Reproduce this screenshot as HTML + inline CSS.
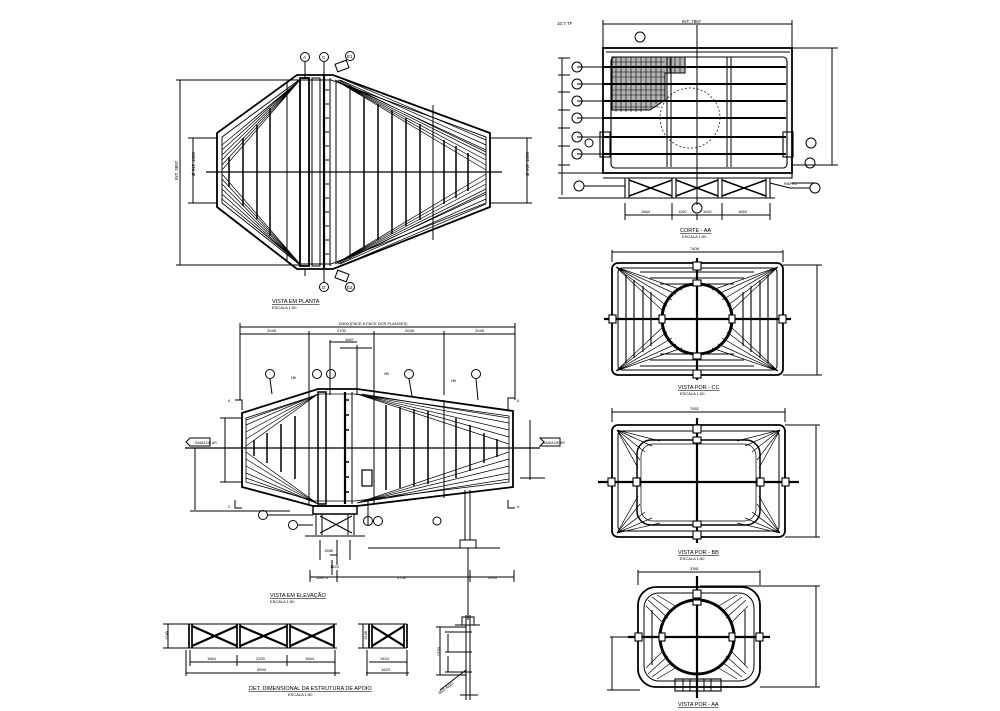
<!DOCTYPE html>
<html><head><meta charset="utf-8"><style>
html,body{margin:0;padding:0;background:#fff}
svg{display:block}
text{font-family:"Liberation Sans",sans-serif;fill:#000}
</style></head><body>
<svg width="1000" height="711" viewBox="0 0 1000 711" xmlns="http://www.w3.org/2000/svg" stroke="#000" fill="none" stroke-width="1">

<!-- ============ PLAN VIEW ============ -->
<g>
<polygon points="217,133 297,75 333,75 490,133 490,207 333,269 297,269 217,207" stroke-width="1.8"/>
<polygon points="222,137 299,80 331,80 486,137 486,203 331,264 299,264 222,203" stroke-width="0.9"/>
<line x1="206" y1="172" x2="502" y2="172" stroke-width="1.3"/>
<rect x="300" y="78" width="9" height="188" stroke-width="1.8"/>
<rect x="312" y="78" width="8" height="188"/>
<line x1="324" y1="76" x2="324" y2="268" stroke-width="2.2"/>
<line x1="330" y1="78" x2="330" y2="266"/>
<line x1="287" y1="83" x2="287" y2="262"/>
<line x1="336" y1="82" x2="336" y2="262"/><line x1="350" y1="85" x2="350" y2="259"/>
<g stroke-width="1.5">
<line x1="364" y1="97" x2="364" y2="247"/><line x1="378" y1="104" x2="378" y2="240"/>
<line x1="392" y1="110" x2="392" y2="234"/><line x1="406" y1="118" x2="406" y2="226"/>
<line x1="420" y1="124" x2="420" y2="220"/>
<line x1="444" y1="140" x2="444" y2="204"/><line x1="456" y1="146" x2="456" y2="198"/>
<line x1="468" y1="153" x2="468" y2="191"/>
<line x1="270" y1="108" x2="270" y2="236"/><line x1="257" y1="125" x2="257" y2="219"/>
<line x1="243" y1="138" x2="243" y2="206"/><line x1="229" y1="157" x2="229" y2="187"/>
</g>
<line x1="433" y1="105" x2="433" y2="240"/>
<g stroke-width="0.7">
<path d="M300,80 L222,150 M300,80 L222,155 M300,80 L222,160 M300,80 L222,165 M300,80 L222,170 M298,82 L228,140 M296,84 L234,135 M300,80 L222,145"/>
<path d="M300,264 L222,194 M300,264 L222,189 M300,264 L222,184 M300,264 L222,179 M300,264 L222,174 M298,262 L228,204 M296,260 L234,209 M300,264 L222,199"/>
<path d="M335,80 L486,150 M335,80 L486,155 M335,80 L486,160 M335,80 L486,165 M335,80 L486,170 M340,80 L486,145 M345,80 L486,140 M338,80 L486,152"/>
<path d="M335,264 L486,194 M335,264 L486,189 M335,264 L486,184 M335,264 L486,179 M335,264 L486,174 M340,264 L486,199 M345,264 L486,204 M338,264 L486,192"/>
</g>
<g stroke-width="1"><path d="M324,90h5M324,104h5M324,118h5M324,132h5M324,146h5M324,160h5M324,184h5M324,198h5M324,212h5M324,226h5M324,240h5M324,254h5"/></g>
<path d="M180,80 V265 M176,80 H300 M176,265 H300 M193,138 V203 M188,138 H217 M188,203 H217 M527,138 V203 M490,138 H532 M490,203 H532"/>
<g stroke-width="1">
<circle cx="305" cy="57" r="4.5"/><circle cx="324" cy="57" r="4.5"/><circle cx="350" cy="56" r="4.5"/>
<circle cx="324" cy="287" r="4.5"/><circle cx="350" cy="287" r="4.5"/>
<path d="M305,62V78 M324,62V76 M324,270V282 M305,268V276"/>
<rect x="336" y="62" width="12" height="8" transform="rotate(-20 342 66)"/>
<rect x="336" y="272" width="12" height="8" transform="rotate(20 342 276)"/>
</g>
<g font-size="4.5" stroke="none"><text x="303" y="59">A</text><text x="322" y="59">C</text><text x="347" y="58">E1</text><text x="322" y="289">D</text><text x="347" y="289">E2</text>
<text x="174" y="180" transform="rotate(-90 176 178)">INT. 3897</text><text x="189" y="178" transform="rotate(-90 191 174)">Ø INT. 1800</text><text x="523" y="178" transform="rotate(-90 525 174)">Ø INT. 1800</text></g>
<text x="272" y="303" font-size="5.5" stroke="none" text-decoration="underline">VISTA EM PLANTA</text>
<text x="272" y="309" font-size="4" stroke="none">ESCALA 1:50</text>
</g>

<!-- ============ ELEVATION ============ -->
<g>
<path d="M240,327 H515 M240,323 V400 M515,323 V400 M240,334 H515 M309,331 V395 M374,331 V395 M444,331 V395 M330,342 H357 M340,348 H372 M330,340V395 M357,345V395"/>
<g font-size="4" stroke="none"><text x="338" y="325">11900 (FACE A FACE DOS FLANGES)</text><text x="267" y="332">2048</text><text x="337" y="332">2700</text><text x="405" y="332">2048</text><text x="475" y="332">2048</text><text x="345" y="341">1667</text></g>
<polygon points="242,413 318,389 357,389 513,411 513,487 357,506 313,506 242,487" stroke-width="1.8"/>
<polygon points="246,418 320,394 355,394 509,416 509,482 355,501 315,501 246,482" stroke-width="0.8"/>
<line x1="185" y1="448" x2="540" y2="448" stroke-width="1.2"/>
<rect x="318" y="392" width="8" height="112" stroke-width="1.5"/>
<line x1="345" y1="392" x2="345" y2="504" stroke-width="2.2"/><line x1="352" y1="392" x2="352" y2="504"/>
<line x1="309" y1="394" x2="309" y2="504"/><line x1="374" y1="392" x2="374" y2="504"/><line x1="444" y1="400" x2="444" y2="498"/>
<g stroke-width="1.5"><path d="M254,440V456 M267,433V463 M281,424V472 M295,416V479 M386,405V490 M400,407V488 M414,409V486 M428,411V484 M456,418V478 M470,425V471 M484,433V463 M497,439V457"/></g>
<g stroke-width="0.7">
<path d="M318,394 L246,425 M318,394 L246,432 M318,394 L246,439 M318,394 L246,446 M314,396 L246,420 M318,504 L246,452 M318,504 L246,459 M318,504 L246,466 M318,504 L246,473 M314,502 L246,478"/>
<path d="M357,394 L509,423 M357,394 L509,430 M357,394 L509,437 M357,394 L509,444 M362,394 L509,418 M357,503 L509,452 M357,503 L509,459 M357,503 L509,466 M357,503 L509,473 M362,502 L509,479"/>
</g>
<g stroke-width="1.6"><path d="M345,400h4M345,415h4M345,430h4M345,462h4M345,477h4M345,492h4"/></g>
<rect x="362" y="470" width="10" height="16" stroke-width="1.2"/>
<rect x="313" y="506" width="44" height="8" stroke-width="1.5"/>
<path d="M316,514V535 M354,514V535 M322,514V535 M348,514V535 M320,516 L352,533 M352,516 L320,533 M305,536H365 M320,540V560 M350,540V560"/>
<path d="M465,490V540 M470,490V540 M460,540H476V548H460Z M368,548 H500 M468,548 V620"/>
<path d="M337,540V565 M330,555H337 M332,560V575 M310,570V582 M337,570V582 M470,570V582 M514,570V582 M310,577H514"/>
<g font-size="4" stroke="none"><text x="316" y="579">1164,5</text><text x="397" y="579">3750</text><text x="488" y="579">2003</text><text x="324" y="552">1558</text><text x="330" y="568">1524</text></g>
<path d="M225,418V482 M220,418H242 M220,482H242 M195,448V510 M190,511H290 M235,400H242V410 M235,500V508H242 M515,398H508V410 M515,508H508V500 M530,420V480 M520,478H545"/>
<path d="M190,438 H210 V446 H190 L186,442 Z M540,438 H560 V446 H540 L544,442 Z"/>
<g stroke-width="1"><circle cx="270" cy="374" r="4.5"/><circle cx="317" cy="374" r="4.5"/><circle cx="331" cy="374" r="4.5"/><circle cx="409" cy="374" r="4.5"/><circle cx="476" cy="374" r="4.5"/><circle cx="263" cy="515" r="4.5"/><circle cx="293" cy="525" r="4.5"/><circle cx="368" cy="521" r="4.5"/><circle cx="378" cy="521" r="4.5"/><circle cx="437" cy="521" r="4"/></g>
<path d="M270,379 L272,394 M409,379 L412,396 M476,379 L478,400 M268,515 H313 M298,525H313 M368,526V500"/>
<g font-size="3.5" stroke="none"><text x="195" y="444">SAIDA DE AR</text><text x="543" y="444">SAIDA DE AR</text><text x="228" y="402">A</text><text x="517" y="402">A</text><text x="228" y="508">C</text><text x="517" y="508">A</text><text x="291" y="379">HB</text><text x="384" y="375">HB</text><text x="451" y="382">HB</text></g>
<text x="270" y="597" font-size="5.5" stroke="none" text-decoration="underline">VISTA EM ELEVAÇÃO</text>
<text x="270" y="603" font-size="4" stroke="none">ESCALA 1:50</text>
</g>

<!-- ============ CORTE AA ============ -->
<g>
<path d="M603,24 H792 M603,20V48 M792,20V48 M697,25V205"/>
<g font-size="4.5" stroke="none"><text x="557" y="25">10,7 TF</text><text x="682" y="23">INT. 7867</text></g>
<rect x="603" y="48" width="189" height="125" stroke-width="1.8"/>
<rect x="611" y="57" width="176" height="111" rx="4" stroke-width="1.1"/>
<line x1="606" y1="52" x2="790" y2="52"/>
<g stroke-width="2"><path d="M603,67H786 M603,84H786 M603,101H786 M603,118H786 M603,137H786 M603,154H786"/></g>
<path d="M667,57V167 M671,57V167 M727,57V167 M731,57V167"/>
<circle cx="690" cy="118" r="30" stroke-dasharray="2,2" stroke-width="0.7"/>
<path d="M612,57 H685 V73 H665 V100 L650,110 H612 Z" fill="#000" fill-opacity="0.3" stroke-width="1"/>
<g stroke-width="0.6"><path d="M616,57V112 M621,57V112 M626,57V112 M631,57V112 M636,57V112 M641,57V112 M646,57V110 M651,57V108 M656,57V104 M661,57V100 M670,57V73 M675,57V73 M680,57V73 M612,62H665 M612,72H665 M612,77H665 M612,90H665 M612,95H665 M612,107H660"/></g>
<path d="M577,67H603 M577,84H603 M577,101H603 M577,118H603 M577,137H603 M577,154H603 M562,58V195 M558,58H570 M558,75H570 M558,92H570 M558,110H570 M558,128H570 M558,146H570 M558,165H570 M558,173H603 M558,198H625 M832,48V165 M792,48H838 M792,165H838 M792,183H815"/>
<g stroke-width="1"><circle cx="577" cy="67" r="5"/><circle cx="577" cy="84" r="5"/><circle cx="577" cy="101" r="5"/><circle cx="577" cy="118" r="5"/><circle cx="577" cy="137" r="5"/><circle cx="577" cy="154" r="5"/><circle cx="589" cy="143" r="4"/><circle cx="640" cy="37" r="5"/><circle cx="811" cy="143" r="5"/><circle cx="810" cy="163" r="5"/><circle cx="579" cy="186" r="5"/><circle cx="697" cy="208" r="5"/><circle cx="815" cy="188" r="5"/></g>
<rect x="600" y="132" width="10" height="25" stroke-width="1.1"/><rect x="783" y="132" width="10" height="25" stroke-width="1.1"/>
<path d="M603,173H792V178H603 M625,178V198 M629,178V198 M672,178V198 M676,178V198 M718,178V198 M722,178V198 M766,178V198 M770,178V198 M620,198H775" stroke-width="1.1"/>
<path d="M629,180 L672,196 M629,196 L672,180 M676,180 L718,196 M676,196 L718,180 M722,180 L766,196 M722,196 L766,180" stroke-width="1.5"/>
<path d="M584,186H625 M625,203V220 M672,203V220 M697,214V220 M722,203V220 M770,203V220 M625,215H770 M770,183 L790,188H810"/>
<g font-size="4" stroke="none"><text x="641" y="213">1664</text><text x="678" y="213">1100</text><text x="703" y="213">1100</text><text x="738" y="213">1664</text><text x="784" y="185">RAPEL</text></g>
<text x="680" y="232" font-size="5.5" stroke="none" text-decoration="underline">CORTE - AA</text>
<text x="682" y="238" font-size="4" stroke="none">ESCALA 1:50</text>
</g>

<!-- ============ VISTA CC ============ -->
<g>
<path d="M612,250V262 M783,250V262 M612,252H783 M783,265H822 M783,375H822 M817,265V375"/>
<text x="690" y="250" font-size="4" stroke="none">7408</text>
<rect x="612" y="263" width="171" height="112" rx="6" stroke-width="1.8"/>
<rect x="618" y="268" width="159" height="102" rx="4"/>
<path d="M604,319H791" stroke-width="2.2"/><path d="M697,258V380" stroke-width="2.2"/>
<circle cx="697" cy="319" r="35" stroke-width="3"/>
<g stroke-width="1.1"><path d="M626,275V363 M634,280V358 M643,286V352 M651,292V346 M743,292V346 M751,286V352 M760,280V358 M768,275V363 M640,272H754 M650,278H744 M660,284H734 M640,366H754 M650,360H744 M660,354H734"/></g>
<g stroke-width="0.7"><path d="M616,267L672,300 M616,267L667,306 M616,267L664,312 M616,267L676,294 M616,267L682,290 M778,267L722,300 M778,267L727,306 M778,267L730,312 M778,267L718,294 M778,267L712,290 M616,371L672,338 M616,371L667,332 M616,371L664,326 M616,371L676,344 M616,371L682,348 M778,371L722,338 M778,371L727,332 M778,371L730,326 M778,371L718,344 M778,371L712,348"/></g>
<g fill="#fff" stroke-width="1.1"><rect x="693" y="262" width="8" height="8"/><rect x="693" y="280" width="8" height="6"/><rect x="693" y="353" width="8" height="6"/><rect x="693" y="370" width="8" height="8"/><rect x="609" y="315" width="7" height="8"/><rect x="659" y="315" width="6" height="8"/><rect x="729" y="315" width="6" height="8"/><rect x="779" y="315" width="7" height="8"/></g>
<text x="678" y="389" font-size="5.5" stroke="none" text-decoration="underline">VISTA POR - CC</text>
<text x="680" y="395" font-size="4" stroke="none">ESCALA 1:50</text>
</g>

<!-- ============ VISTA BB ============ -->
<g>
<path d="M612,408V422 M785,408V422 M612,412H785 M785,425H820 M785,537H820 M816,425V537"/>
<text x="690" y="410" font-size="4" stroke="none">7652</text>
<rect x="612" y="425" width="173" height="112" rx="6" stroke-width="1.8"/>
<rect x="618" y="431" width="161" height="100" rx="4"/>
<rect x="637" y="440" width="123" height="85" rx="14" stroke-width="1.5"/>
<rect x="641" y="444" width="115" height="77" rx="12" stroke-width="0.7"/>
<path d="M598,482H799" stroke-width="2.2"/><path d="M697,418V543" stroke-width="2.2"/>
<g stroke-width="0.7"><path d="M617,430L640,460 M617,430L645,452 M617,430L652,446 M617,430L660,441 M617,430L638,468 M780,430L757,460 M780,430L752,452 M780,430L745,446 M780,430L737,441 M780,430L759,468 M617,533L640,504 M617,533L645,512 M617,533L652,518 M617,533L660,523 M617,533L638,496 M780,533L757,504 M780,533L752,512 M780,533L745,518 M780,533L737,523 M780,533L759,496"/></g>
<g fill="#fff" stroke-width="1.1"><rect x="693" y="425" width="8" height="8"/><rect x="693" y="437" width="8" height="6"/><rect x="693" y="521" width="8" height="6"/><rect x="693" y="531" width="8" height="8"/><rect x="608" y="478" width="7" height="8"/><rect x="633" y="478" width="7" height="8"/><rect x="757" y="478" width="7" height="8"/><rect x="782" y="478" width="7" height="8"/></g>
<text x="678" y="554" font-size="5.5" stroke="none" text-decoration="underline">VISTA POR - BB</text>
<text x="680" y="560" font-size="4" stroke="none">ESCALA 1:50</text>
</g>

<!-- ============ VISTA AA ============ -->
<g>
<path d="M638,570V585 M760,570V585 M638,572H760 M700,586H820 M760,687H820 M816,586V687 M610,637H640 M612,637V690 M607,690H640"/>
<text x="690" y="570" font-size="4" stroke="none">3381</text>
<rect x="638" y="587" width="122" height="100" rx="18" stroke-width="1.8"/>
<rect x="644" y="593" width="110" height="88" rx="15"/>
<path d="M628,637H770" stroke-width="2.2"/><path d="M697,576V698" stroke-width="2.2"/>
<circle cx="697" cy="637" r="37" stroke-width="3"/>
<g stroke-width="0.7"><path d="M648,600L668,618 M652,597L672,612 M657,595L677,607 M646,606L664,624 M746,600L726,618 M742,597L722,612 M737,595L717,607 M748,606L730,624 M648,674L668,656 M652,677L672,662 M657,679L677,667 M646,668L664,650 M746,674L726,656 M742,677L722,662 M737,679L717,667 M748,668L730,650"/></g>
<path d="M652,610V665 M745,610V665"/>
<g fill="#fff" stroke-width="1.1"><rect x="693" y="590" width="8" height="8"/><rect x="693" y="600" width="8" height="5"/><rect x="635" y="633" width="7" height="8"/><rect x="659" y="633" width="6" height="8"/><rect x="729" y="633" width="6" height="8"/><rect x="756" y="633" width="7" height="8"/></g>
<rect x="675" y="679" width="46" height="12" stroke-width="1.1"/>
<path d="M683,679V691 M690,679V691 M704,679V691 M711,679V691"/>
<text x="678" y="706" font-size="5.5" stroke="none" text-decoration="underline">VISTA POR - AA</text>
</g>

<!-- ============ SUPPORT DETAILS ============ -->
<g>
<path d="M187,624H337 M187,648H337"/>
<g stroke-width="1.7"><path d="M189,624V648 M192,624V648 M237,624V648 M240,624V648 M287,624V648 M290,624V648 M334,624V648"/></g>
<g stroke-width="2.2"><path d="M192,626L237,646 M192,646L237,626 M240,626L287,646 M240,646L287,626 M290,626L334,646 M290,646L334,626"/></g>
<path d="M168,624V648 M163,624H187 M163,648H187 M190,650V666 M237,655V666 M287,655V666 M335,650V676 M186,650V676 M190,662H335 M186,673H340"/>
<g font-size="4" stroke="none"><text x="207" y="660">1664</text><text x="256" y="660">2200</text><text x="305" y="660">1664</text><text x="257" y="671">5594</text><text x="160" y="640" transform="rotate(-90 164 636)">1248</text><text x="359" y="640" transform="rotate(-90 363 636)">1248</text></g>
<path d="M367,624H407 M367,648H407 M363,624V648 M358,624H370 M358,648H370 M367,650V676 M407,650V676 M369,662H407 M366,673H409"/>
<g stroke-width="1.7"><path d="M369,624V648 M372,624V648 M404,624V648 M407,624V648"/></g>
<g stroke-width="2.2"><path d="M372,626L404,646 M372,646L404,626"/></g>
<g font-size="4" stroke="none"><text x="380" y="660">1524</text><text x="381" y="671">1620</text></g>
<path d="M466,615V700 M470,615V700 M462,617H474V625H462Z M455,625H480 M440,627V675 M436,627H466 M436,675H466 M448,634V652 M448,656V672 M445,632H472 M445,652H472 M445,672H472 M440,690 L466,670 M460,695H478"/>
<g font-size="4" stroke="none"><text x="431" y="655" transform="rotate(-90 436 651)">2150</text><text x="437" y="690" transform="rotate(-35 445 688)">Ø20 ROD</text></g>
<text x="249" y="690" font-size="5.5" stroke="none" text-decoration="underline">DET. DIMENSIONAL DA ESTRUTURA DE APOIO</text>
<text x="288" y="696" font-size="4" stroke="none">ESCALA 1:50</text>
</g>
</svg>
</body></html>
